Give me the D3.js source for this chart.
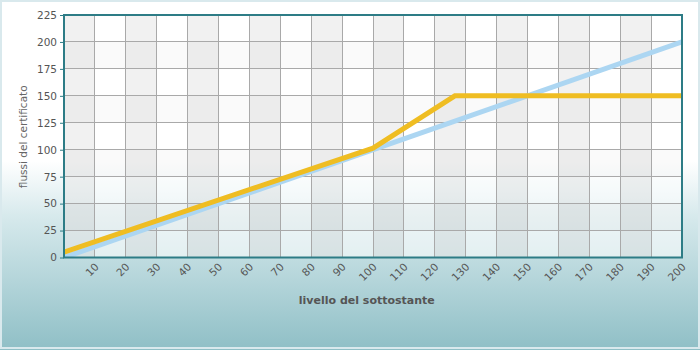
<!DOCTYPE html>
<html><head><meta charset="utf-8">
<script src="https://cdn.jsdelivr.net/npm/d3@7"></script>
<style>body{margin:0;padding:0;}svg{display:block;}</style>
</head><body>
<svg id="c" width="700" height="350"></svg>
<script>
const xTicks = [10,20,30,40,50,60,70,80,90,100,110,120,130,140,150,160,170,180,190,200];
const yTicks = [0,25,50,75,100,125,150,175,200,225];
const sottostanteX = [0, 200];
const sottostanteY = [0, 200];
const certificatoX = [0, 100, 126.5, 200];
const certificatoY = [5, 101.5, 150, 150];
const xTitle = "livello del sottostante";
const yTitle = "flussi del certificato";

const svg = d3.select("#c");
const W = 700, H = 350;
const m = {l: 64, r: 682, t: 15, b: 257.5};
const x = d3.scaleLinear().domain([0, 200]).range([m.l, m.r]);
const y = d3.scaleLinear().domain([0, 225]).range([m.b, m.t]);

const defs = svg.append("defs");
const bg = defs.append("linearGradient").attr("id","bg").attr("x1",0).attr("y1",0).attr("x2",0).attr("y2",1);
bg.append("stop").attr("offset","0%").attr("stop-color","#ffffff");
bg.append("stop").attr("offset","46%").attr("stop-color","#ffffff");
bg.append("stop").attr("offset","62%").attr("stop-color","#d6e9ec");
bg.append("stop").attr("offset","100%").attr("stop-color","#8fbfc6");

svg.append("rect").attr("width",W).attr("height",H).attr("fill","url(#bg)");
svg.append("rect").attr("x",1).attr("y",1).attr("width",W-2).attr("height",H-3)
  .attr("fill","none").attr("stroke","#d9e9ed").attr("stroke-width",2);

// plot background: semi-transparent cells
const g = svg.append("g");
g.append("rect").attr("x",m.l).attr("y",m.t).attr("width",m.r-m.l).attr("height",m.b-m.t)
  .attr("fill","#ffffff").attr("fill-opacity",0.55);
const cols = d3.range(0, 200, 10);
g.selectAll("rect.col").data(cols.filter((d,i)=>i%2===0)).join("rect").attr("class","col")
  .attr("x", d=>x(d)).attr("width", d=>x(d+10)-x(d)).attr("y", m.t).attr("height", m.b-m.t)
  .attr("fill","#000").attr("fill-opacity",0.055);
const rows = d3.range(0, 225, 25);
g.selectAll("rect.row").data(rows.filter((d,i)=>i%2===1)).join("rect").attr("class","row")
  .attr("x", m.l).attr("width", m.r-m.l).attr("y", d=>y(d+25)).attr("height", d=>y(d)-y(d+25))
  .attr("fill","#000").attr("fill-opacity",0.02);

// grid
g.selectAll("line.vg").data(d3.range(10,200,10)).join("line").attr("class","vg")
  .attr("x1",d=>x(d)).attr("x2",d=>x(d)).attr("y1",m.t).attr("y2",m.b)
  .attr("stroke","#a9a9a9").attr("stroke-width",1).attr("shape-rendering","crispEdges");
g.selectAll("line.hg").data(d3.range(25,225,25)).join("line").attr("class","hg")
  .attr("x1",m.l).attr("x2",m.r).attr("y1",d=>y(d)).attr("y2",d=>y(d))
  .attr("stroke","#a9a9a9").attr("stroke-width",1).attr("shape-rendering","crispEdges");

// lines
const line = d3.line().x(d=>x(d[0])).y(d=>y(d[1]));
const clip = defs.append("clipPath").attr("id","pc");
clip.append("rect").attr("x",m.l).attr("y",m.t-3).attr("width",m.r-m.l).attr("height",m.b-m.t+3);
svg.append("path").datum(d3.zip(sottostanteX, sottostanteY)).attr("d", line)
  .attr("fill","none").attr("stroke","#acd6f2").attr("stroke-width",5).attr("clip-path","url(#pc)");
svg.append("path").datum(d3.zip(certificatoX, certificatoY)).attr("d", line)
  .attr("fill","none").attr("stroke","#efbd22").attr("stroke-width",5).attr("stroke-linejoin","miter")
  .attr("clip-path","url(#pc)");

// border
svg.append("rect").attr("x",m.l).attr("y",m.t).attr("width",m.r-m.l).attr("height",m.b-m.t)
  .attr("fill","none").attr("stroke","#2d7c86").attr("stroke-width",2);

// axes
const yAxis = svg.append("g").attr("transform",`translate(${m.l},0)`)
  .call(d3.axisLeft(y).tickValues(yTicks).tickSize(4).tickPadding(3));
yAxis.select(".domain").remove();
yAxis.selectAll("line").attr("stroke","#2d7c86");
yAxis.selectAll("text").attr("fill","#555").style("font-family","DejaVu Sans, Verdana, sans-serif").style("font-size","10.5px");

const xAxis = svg.append("g").attr("transform",`translate(0,${m.b})`)
  .call(d3.axisBottom(x).tickValues(xTicks).tickSize(0).tickPadding(0));
xAxis.select(".domain").remove();
xAxis.selectAll("text")
  .attr("fill","#555").style("font-family","DejaVu Sans, Verdana, sans-serif").style("font-size","10.5px")
  .attr("text-anchor","end").attr("dy",null).attr("y",0)
  .attr("transform", d=>`translate(4,${10}) rotate(-45)`);

svg.append("text").attr("x",x(76)).attr("y",304).text(xTitle)
  .attr("fill","#555").style("font-family","DejaVu Sans, Verdana, sans-serif").style("font-size","11px").style("font-weight","bold");
svg.append("text").attr("transform",`translate(27,${y(112)}) rotate(-90)`).attr("text-anchor","middle").text(yTitle)
  .attr("fill","#666").style("font-family","DejaVu Sans, Verdana, sans-serif").style("font-size","10.5px");
</script>
</body></html>
